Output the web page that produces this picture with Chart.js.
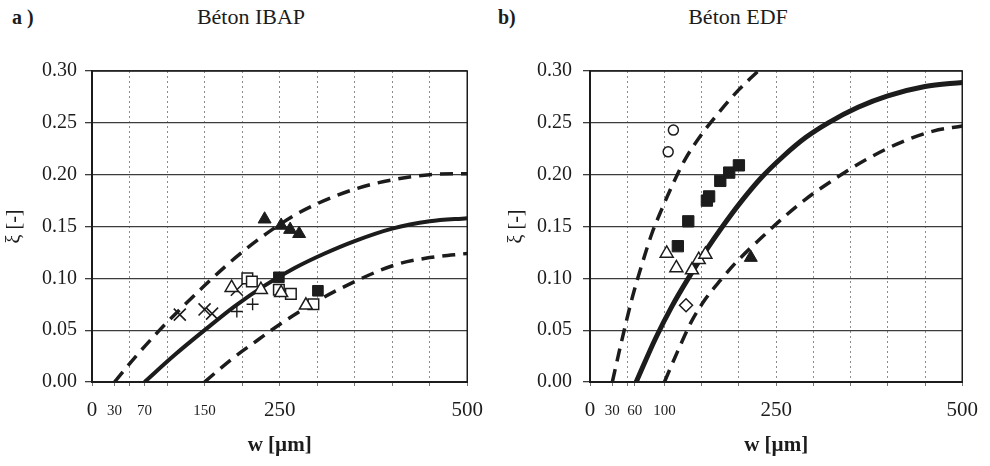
<!DOCTYPE html>
<html>
<head>
<meta charset="utf-8">
<script src="https://cdn.jsdelivr.net/npm/chart.js@4.4.1/dist/chart.umd.min.js"></script>
<style>
body{margin:0;background:#fff;width:990px;height:466px;overflow:hidden;position:relative;font-family:"Liberation Serif",serif;color:#1c1c1c}
.panel{position:absolute;top:0;width:495px;height:466px}
.tag{position:absolute;top:5px;font-weight:bold;font-size:20px;line-height:24px}
.ttl{position:absolute;top:5px;width:200px;text-align:center;font-size:22px;line-height:24px}
</style>
</head>
<body>
<div class="tag" style="left:12px">a )</div>
<div class="ttl" style="left:151px">Béton IBAP</div>
<div class="tag" style="left:498px">b)</div>
<div class="ttl" style="left:638px">Béton EDF</div>
<div class="panel" style="left:0"><canvas id="chartA" width="495" height="466"></canvas></div>
<div class="panel" style="left:495px"><canvas id="chartB" width="495" height="466"></canvas></div>
<script>
// --- Béton IBAP : courbes [w, xi]
const ibapUpper=[[30,0],[60,0.026],[90,0.050],[120,0.072],[150,0.093],[180,0.113],[210,0.131],[240,0.147],[270,0.161],[300,0.172],[350,0.186],[400,0.195],[450,0.200],[500,0.201]];
const ibapMid=[[70,0],[110,0.026],[150,0.050],[190,0.073],[230,0.093],[270,0.110],[310,0.124],[350,0.136],[400,0.148],[450,0.155],[500,0.158]];
const ibapLow=[[150,0],[186,0.022],[220,0.040],[251,0.056],[295,0.076],[339,0.093],[404,0.113],[450,0.120],[500,0.124]];
// mesures
const ibapTriFilled=[[230,0.157],[252,0.151],[264,0.147],[276,0.143]];
const ibapTriOpen=[[186,0.091],[225,0.089],[252,0.086],[285,0.074]];
const ibapSqOpen=[[207,0.100],[213,0.097],[249,0.089],[265,0.085],[295,0.075]];
const ibapSqFilled=[[249,0.101],[301,0.088]];
const ibapCross=[[117,0.065],[150,0.070],[160,0.066],[193,0.089]];
const ibapPlus=[[193,0.068],[214,0.075]];
const ibapTicks=[0,30,50,70,100,150,200,250,300,350,400,450,500];
const ibapLabels=[0,30,70,150,250,500];

// --- Béton EDF
const edfUpper=[[30,0],[42,0.038],[57,0.082],[70,0.114],[83,0.143],[96,0.166],[112,0.192],[128,0.215],[149,0.238],[172,0.259],[200,0.282],[226,0.300]];
const edfMid=[[62,0],[88,0.042],[110,0.073],[132,0.100],[155,0.126],[178,0.150],[203,0.174],[230,0.197],[260,0.218],[290,0.236],[320,0.250],[360,0.265],[400,0.276],[450,0.285],[500,0.289]];
const edfLow=[[100,0],[118,0.030],[136,0.058],[155,0.080],[175,0.098],[197,0.116],[233,0.141],[254,0.155],[289,0.176],[329,0.196],[372,0.215],[417,0.231],[461,0.242],[500,0.247]];
const edfCircle=[[105,0.222],[112,0.243]];
const edfSqFilled=[[118,0.131],[132,0.155],[157,0.175],[160,0.179],[175,0.194],[187,0.202],[200,0.209]];
const edfTriOpen=[[103,0.124],[116,0.110],[137,0.108],[146,0.118],[155,0.123]];
const edfTriFilled=[[216,0.120]];
const edfDiamond=[[129,0.074]];
const edfTicks=[0,30,50,60,100,150,200,250,300,350,400,450,500];
const edfLabels=[0,30,60,100,250,500];

const bigLabels=[0,250,500];
const yTicks=[0,0.05,0.10,0.15,0.20,0.25,0.30];
const INK="#1c1c1c";
const SERIF="'Liberation Serif','Times New Roman',serif";

function pts(a){ return a.map(p=>({x:p[0],y:p[1]})); }

function curve(a,dashed,w){
  return {data:pts(a),showLine:true,pointRadius:0,borderColor:INK,borderWidth:w||(dashed?3.5:4),
    borderDash:dashed?[13,8]:[],cubicInterpolationMode:'monotone',order:2};
}
function marks(a,style,r,filled,bw){
  return {data:pts(a),showLine:false,pointStyle:style,pointRadius:r,
    backgroundColor:filled?INK:'#fff',borderColor:INK,pointBorderWidth:bw||1.5,order:1};
}

// cadre autour de la zone de tracé
const frame={id:'frame',beforeDatasetsDraw(chart){
  const a=chart.chartArea,ctx=chart.ctx;
  ctx.save(); ctx.strokeStyle=INK; ctx.lineWidth=1.5;
  ctx.strokeRect(a.left,a.top,a.right-a.left,a.bottom-a.top);
  ctx.restore();
}};

function makePanel(id,datasets,ticks,labels,yWidth,titlePad,padRight){
  const tickVal=c=>c.tick?c.tick.value:0;
  return new Chart(document.getElementById(id),{
    type:'scatter',
    data:{datasets},
    options:{
      responsive:false,animation:false,events:[],
      layout:{padding:{left:0,top:71,right:padRight,bottom:0}},
      plugins:{legend:{display:false},tooltip:{enabled:false}},
      scales:{
        x:{type:'linear',min:0,max:500,
          afterBuildTicks:s=>{ s.ticks=ticks.map(v=>({value:v})); },
          afterFit:s=>{ s.height=84; },
          grid:{color:c=>tickVal(c)%50===0?'#8c8c8c':'rgba(0,0,0,0)',lineWidth:1,tickLength:4,tickColor:'#777'},
          border:{color:INK,width:2,dash:[2,3]},
          ticks:{autoSkip:false,maxRotation:0,padding:12,color:INK,
            font:c=>bigLabels.includes(tickVal(c))?{family:SERIF,size:21,lineHeight:1.2}:{family:SERIF,size:15,lineHeight:25.2/15},
            callback:v=>labels.includes(v)?String(v):''},
          title:{display:true,text:'w [µm]',color:INK,font:{family:SERIF,size:21,weight:'bold'},padding:{top:0,bottom:8}}
        },
        y:{min:0,max:0.3,
          afterBuildTicks:s=>{ s.ticks=yTicks.map(v=>({value:v})); },
          afterFit:s=>{ s.width=yWidth; },
          grid:{color:'#3c3c3c',lineWidth:1.3,tickLength:7},
          border:{color:INK,width:2},
          ticks:{padding:yWidth-84,color:INK,font:{family:SERIF,size:20},callback:v=>v.toFixed(2)},
          title:{display:true,text:'ξ [-]',color:INK,font:{family:SERIF,size:20},padding:{top:titlePad,bottom:0}}
        }
      }
    },
    plugins:[frame]
  });
}

makePanel('chartA',[
  curve(ibapUpper,true),curve(ibapMid,false),curve(ibapLow,true),
  marks(ibapTriFilled,'triangle',7.5,true,1),
  marks(ibapTriOpen,'triangle',7.5,false),
  marks(ibapSqOpen,'rect',7.5,false),
  marks(ibapSqFilled,'rect',7.5,true,1),
  marks(ibapCross,'crossRot',8.5,false,1.6),
  marks(ibapPlus,'cross',6,false,1.4)
],ibapTicks,ibapLabels,92,3,23);

makePanel('chartB',[
  curve(edfUpper,true),curve(edfMid,false,5),curve(edfLow,true),
  marks(edfCircle,'circle',5,false),
  marks(edfSqFilled,'rect',8,true,1),
  marks(edfTriOpen,'triangle',7.5,false),
  marks(edfTriFilled,'triangle',7.5,true,1),
  marks(edfDiamond,'rectRot',6.5,false)
],edfTicks,edfLabels,95,10,20);
</script>
</body>
</html>
